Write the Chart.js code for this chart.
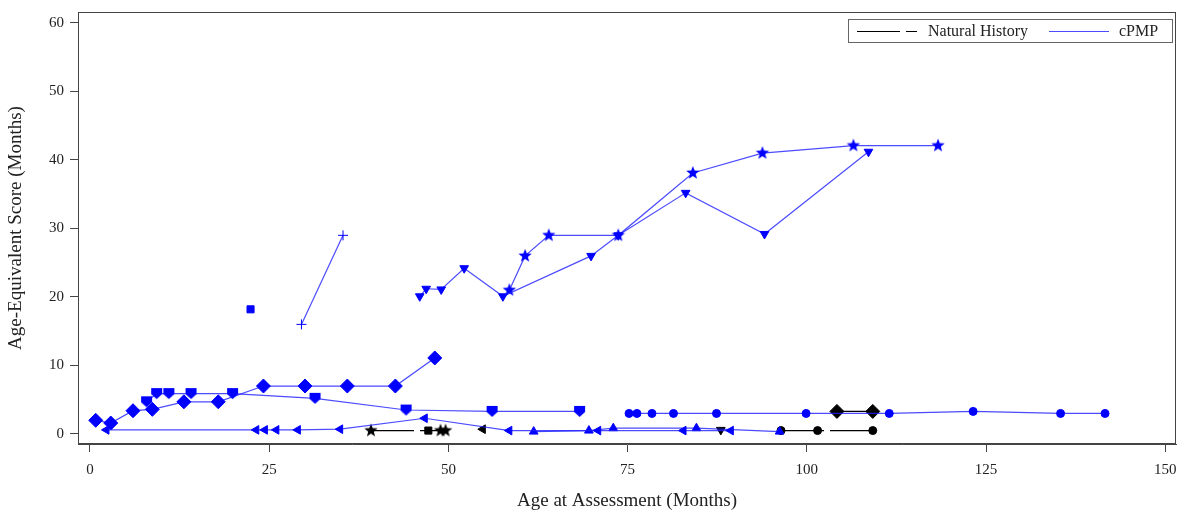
<!DOCTYPE html>
<html>
<head>
<meta charset="utf-8">
<script src="https://cdn.jsdelivr.net/npm/chart.js@4/dist/chart.umd.min.js"></script>
<style>
  html, body { margin: 0; padding: 0; background: #fff; }
  #wrap { width: 1184px; height: 517px; }
</style>
</head>
<body>
<div id="wrap"><canvas id="ageChart" width="1184" height="517"></canvas></div>
<script>
// axis ticks
const xTickValues = [0, 25, 50, 75, 100, 125, 150];
const yTickValues = [0, 10, 20, 30, 40, 50, 60];

// cPMP subjects (age at assessment, age-equivalent score)
const cpmpDiamondAge   = [0.8, 2.9, 6.0, 8.7, 13.1, 17.9, 24.2, 30.0, 35.9, 42.6, 48.1];
const cpmpDiamondScore = [2.0, 1.6, 3.4, 3.6, 4.7, 4.7, 7.0, 7.0, 7.0, 7.0, 11.1];

const cpmpShieldAge   = [7.9, 9.3, 11.0, 14.1, 19.9, 31.4, 44.1, 56.1, 68.3];
const cpmpShieldScore = [4.7, 5.9, 5.9, 5.9, 5.9, 5.2, 3.5, 3.3, 3.3];

const cpmpLeftTriAge   = [2.3, 23.2, 24.4, 26.0, 29.0, 34.9, 46.7, 58.5, 70.9, 82.8, 89.4];
const cpmpLeftTriScore = [0.6, 0.6, 0.6, 0.6, 0.6, 0.7, 2.3, 0.5, 0.5, 0.5, 0.5];

const cpmpUpTriAge   = [61.9, 69.6, 73.0, 84.6, 96.2];
const cpmpUpTriScore = [0.35, 0.5, 0.85, 0.85, 0.35];

const cpmpCircleAge   = [75.2, 76.3, 78.4, 81.4, 87.4, 99.9, 111.5, 123.2, 135.4, 141.6];
const cpmpCircleScore = [3.0, 3.0, 3.0, 3.0, 3.0, 3.0, 3.0, 3.3, 3.0, 3.0];

const cpmpDownTriAge   = [46.0, 46.9, 49.0, 52.2, 57.6, 69.9, 73.7, 83.1, 94.1, 108.6];
const cpmpDownTriScore = [20.1, 21.2, 21.1, 24.2, 20.1, 26.0, 29.0, 35.2, 29.2, 41.2];

const cpmpStarAge   = [58.5, 60.7, 64.0, 73.7, 84.1, 93.8, 106.5, 118.3];
const cpmpStarScore = [21.0, 26.0, 29.0, 29.0, 38.1, 41.0, 42.1, 42.1];

const cpmpPlusAge   = [29.5, 35.3];
const cpmpPlusScore = [16.0, 29.0];

const cpmpSquareAge   = [22.4];
const cpmpSquareScore = [18.2];

// Natural History subjects
const nhDiamondAge   = [104.2, 109.2];
const nhDiamondScore = [3.3, 3.3];

const nhCircleAge   = [96.4, 101.5, 109.2];
const nhCircleScore = [0.5, 0.5, 0.5];

const nhStarAge   = [39.2, 48.9, 49.6];
const nhStarScore = [0.5, 0.5, 0.5];

const nhSquareAge   = [47.2];
const nhSquareScore = [0.5];

const nhLeftTriAge   = [54.8];
const nhLeftTriScore = [0.7];

const nhDownTriAge   = [88.0];
const nhDownTriScore = [0.6];

const BLUE = '#0000ff';
const BLUE_LINE = 'rgba(30,30,255,0.8)';
const BLACK = '#000000';

// filled star / inverted house markers drawn on small canvases
function starMarker(color, r) {
    const c = document.createElement('canvas');
    c.width = c.height = Math.ceil(r * 2 + 2);
    const g = c.getContext('2d');
    const cx = c.width / 2, cy = c.height / 2;
    g.beginPath();
    for (let i = 0; i < 10; i++) {
        const rad = i % 2 === 0 ? r : r * 0.42;
        const a = -Math.PI / 2 + i * Math.PI / 5;
        const px = cx + Math.cos(a) * rad, py = cy + Math.sin(a) * rad;
        if (i === 0) g.moveTo(px, py); else g.lineTo(px, py);
    }
    g.closePath();
    g.fillStyle = color;
    g.fill();
    return c;
}

function shieldMarker(color, r) {
    const c = document.createElement('canvas');
    c.width = c.height = Math.ceil(r * 2 + 2);
    const g = c.getContext('2d');
    const cx = c.width / 2, cy = c.height / 2;
    g.beginPath();
    g.moveTo(cx - r, cy - r);
    g.lineTo(cx + r, cy - r);
    g.lineTo(cx + r, cy + r * 0.1);
    g.lineTo(cx, cy + r);
    g.lineTo(cx - r, cy + r * 0.1);
    g.closePath();
    g.fillStyle = color;
    g.fill();
    return c;
}

function pairs(xs, ys) {
    return xs.map((x, i) => ({ x: x, y: ys[i] }));
}

function series(xs, ys, opts) {
    const black = opts.black;
    return Object.assign({
        data: pairs(xs, ys),
        showLine: true,
        borderColor: black ? BLACK : BLUE_LINE,
        borderWidth: 1.2,
        borderDash: black ? [43, 6] : [],
        pointBackgroundColor: black ? BLACK : BLUE,
        pointBorderColor: black ? BLACK : BLUE,
        pointBorderWidth: 1,
        pointRadius: 5,
        fill: false
    }, opts.extra || {});
}

const datasets = [
    series(cpmpLeftTriAge, cpmpLeftTriScore, { extra: { pointStyle: 'triangle', pointRotation: -90, pointRadius: 5 } }),
    series(cpmpUpTriAge, cpmpUpTriScore, { extra: { pointStyle: 'triangle', pointRadius: 5 } }),
    series(cpmpCircleAge, cpmpCircleScore, { extra: { pointStyle: 'circle', pointRadius: 4 } }),
    series(cpmpShieldAge, cpmpShieldScore, { extra: { pointStyle: shieldMarker(BLUE, 5.5) } }),
    series(cpmpDiamondAge, cpmpDiamondScore, { extra: { pointStyle: 'rectRot', pointRadius: 7 } }),
    series(cpmpDownTriAge, cpmpDownTriScore, { extra: { pointStyle: 'triangle', pointRotation: 180, pointRadius: 5 } }),
    series(cpmpStarAge, cpmpStarScore, { extra: { pointStyle: starMarker(BLUE, 7) } }),
    series(cpmpPlusAge, cpmpPlusScore, { extra: { pointStyle: 'cross', pointRadius: 5 } }),
    series(cpmpSquareAge, cpmpSquareScore, { extra: { pointStyle: 'rect', pointRadius: 5 } }),
    series(nhDiamondAge, nhDiamondScore, { black: true, extra: { pointStyle: 'rectRot', pointRadius: 7 } }),
    series(nhCircleAge, nhCircleScore, { black: true, extra: { pointStyle: 'circle', pointRadius: 4 } }),
    series(nhStarAge, nhStarScore, { black: true, extra: { pointStyle: starMarker(BLACK, 7) } }),
    series(nhSquareAge, nhSquareScore, { black: true, extra: { pointStyle: 'rect', pointRadius: 5 } }),
    series(nhLeftTriAge, nhLeftTriScore, { black: true, extra: { pointStyle: 'triangle', pointRotation: -90, pointRadius: 5 } }),
    series(nhDownTriAge, nhDownTriScore, { black: true, extra: { pointStyle: 'triangle', pointRotation: 180, pointRadius: 5 } })
];

// plot frame and the inset legend
const frameAndLegend = {
    id: 'frameAndLegend',
    afterDraw(chart) {
        const g = chart.ctx;
        const a = chart.chartArea;
        g.save();
        g.strokeStyle = '#444';
        g.lineWidth = 1;
        g.strokeRect(Math.round(a.left) + 0.5, Math.round(a.top) + 0.5,
            Math.round(a.right - a.left) - 1, Math.round(a.bottom - a.top) - 1);

        const bx = 848.5, by = 19.5, bw = 324, bh = 23;
        g.fillStyle = '#fff';
        g.fillRect(bx, by, bw, bh);
        g.strokeStyle = '#666';
        g.strokeRect(bx, by, bw, bh);
        const ly = 31.5;
        g.strokeStyle = BLACK;
        g.setLineDash([43, 6]);
        g.beginPath(); g.moveTo(857, ly); g.lineTo(917, ly); g.stroke();
        g.setLineDash([]);
        g.strokeStyle = BLUE_LINE;
        g.beginPath(); g.moveTo(1049, ly); g.lineTo(1109, ly); g.stroke();
        g.fillStyle = '#222';
        g.font = '16px "Liberation Serif"';
        g.textBaseline = 'middle';
        g.fillText('Natural History', 928, ly);
        g.fillText('cPMP', 1119, ly);
        g.restore();
    }
};

Chart.defaults.font.family = '"Liberation Serif", "DejaVu Serif", serif';
Chart.defaults.color = '#222';

const ctx = document.getElementById('ageChart').getContext('2d');
const ageChart = new Chart(ctx, {
    type: 'scatter',
    data: { datasets: datasets },
    options: {
        responsive: false,
        animation: false,
        devicePixelRatio: 1,
        layout: { padding: { top: 12, right: 5, left: 0, bottom: 0 } },
        plugins: {
            legend: { display: false },
            tooltip: { enabled: false }
        },
        scales: {
            x: {
                type: 'linear',
                min: -1.67,
                max: 151.5,
                afterBuildTicks: (scale) => { scale.ticks = xTickValues.map(v => ({ value: v })); },
                afterFit: (scale) => { scale.height = 73; scale.paddingLeft = 0; scale.paddingRight = 0; },
                ticks: { font: { size: 15 }, padding: 9, color: '#222', maxRotation: 0 },
                grid: { drawOnChartArea: false, drawTicks: true, tickLength: 8, color: '#444' },
                border: { display: true, color: '#444' },
                title: {
                    display: true,
                    text: 'Age at Assessment (Months)',
                    font: { size: 19 },
                    color: '#222',
                    padding: { top: 0, bottom: 5 }
                }
            },
            y: {
                type: 'linear',
                min: -1.46,
                max: 61.6,
                afterBuildTicks: (scale) => { scale.ticks = yTickValues.map(v => ({ value: v })); },
                afterFit: (scale) => { scale.width = 78; scale.paddingTop = 0; scale.paddingBottom = 0; },
                ticks: { font: { size: 15 }, padding: 6, color: '#222' },
                grid: { drawOnChartArea: false, drawTicks: true, tickLength: 8, color: '#444' },
                border: { display: true, color: '#444' },
                title: {
                    display: true,
                    text: 'Age-Equivalent Score (Months)',
                    font: { size: 19 },
                    color: '#222',
                    padding: { top: 5, bottom: 0 }
                }
            }
        }
    },
    plugins: [frameAndLegend]
});
</script>
</body>
</html>
